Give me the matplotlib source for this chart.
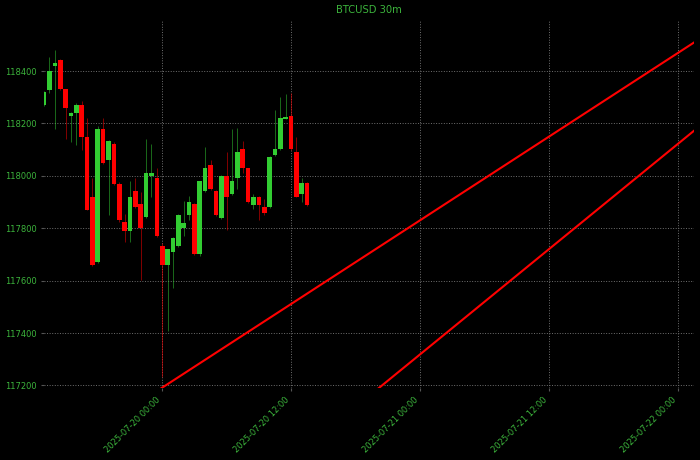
import matplotlib
matplotlib.use("Agg")
import matplotlib.pyplot as plt
import matplotlib.dates as mdates
import matplotlib.ticker as mticker
import pandas as pd
import numpy as np

# ---- data ----
start_time = "2025-07-19 13:00"
opens = [118270, 118327, 118420, 118442, 118330, 118229, 118241, 118270, 118149, 117920,
         117672, 118180, 118060, 118120, 117970, 117822, 117790, 117941, 117892, 117841,
         118000, 117991, 117732, 117659, 117710, 117732, 117802, 117850, 117891, 117700,
         117942, 118041, 117942, 117840, 117999, 117930, 117990, 118101, 118028, 117888,
         117920, 117882, 117881, 118079, 118101, 118218, 118230, 118091, 117929, 117971]
highs = [118325, 118452, 118480, 118446, 118332, 118245, 118276, 118285, 118219, 117990,
         118189, 118219, 118135, 118130, 117975, 117853, 117980, 117990, 117939, 118140,
         118121, 118028, 117743, 117722, 117766, 117855, 117904, 117923, 117895, 117982,
         118111, 118060, 117945, 118002, 118092, 118179, 118181, 118133, 118031, 117931,
         117922, 117911, 118075, 118251, 118302, 118312, 118315, 118149, 117993, 117977]
lows = [118265, 118317, 118178, 118328, 118139, 118130, 118117, 118098, 117868, 117655,
        117668, 118045, 117850, 117965, 117825, 117747, 117747, 117878, 117602, 117838,
        117920, 117765, 117233, 117408, 117570, 117728, 117770, 117831, 117698, 117695,
        117938, 117945, 117848, 117836, 117793, 117926, 117948, 118012, 117898, 117873,
        117831, 117851, 117878, 118077, 118099, 118215, 118098, 117918, 117901, 117885]
closes = [118321, 118400, 118429, 118330, 118257, 118241, 118270, 118149, 117871, 117659,
          118180, 118050, 118131, 117970, 117830, 117790, 117920, 117881, 117802, 118012,
          118010, 117770, 117659, 117719, 117761, 117850, 117821, 117901, 117701, 117980,
          118028, 117948, 117850, 117999, 117920, 117980, 118092, 118028, 117901, 117920,
          117888, 117859, 118072, 118101, 118222, 118226, 118101, 117920, 117971, 117888]

trend1_times = ["2025-07-19 23:30", "2025-07-22 01:30"]
trend1_values = [117178, 118508]
trend2_times = ["2025-07-20 20:00", "2025-07-22 01:30"]
trend2_values = [117184, 118171]

y_ticks = [117200, 117400, 117600, 117800, 118000, 118200, 118400]
x_range = ["2025-07-19 13:00", "2025-07-22 01:30"]
title = "BTCUSD 30m"

# ---- plot ----
GREEN = "#32cd32"
RED = "#ff0000"
TXT = "#3cb43c"

fig = plt.figure(figsize=(7, 4.601), dpi=100, facecolor="black")
ax = fig.add_axes([0.063, 0.1565, 0.928, 0.8])
ax.set_facecolor("black")

times = pd.date_range(start_time, periods=len(opens), freq="30min")
xs = mdates.date2num(times.to_pydatetime())
o = np.array(opens); h = np.array(highs); l = np.array(lows); c = np.array(closes)
up = c >= o
cols = np.where(up, GREEN, RED)

ax.vlines(xs, l, h, colors=cols, linewidth=0.6, alpha=0.6, zorder=2)
body_h = np.where(np.abs(c - o) < 4, 4, np.abs(c - o))
ax.bar(xs, body_h, bottom=np.minimum(o, c), width=0.018, color=cols, zorder=3, linewidth=0)

t1 = mdates.date2num(pd.to_datetime(trend1_times).to_pydatetime())
t2 = mdates.date2num(pd.to_datetime(trend2_times).to_pydatetime())
ax.plot(t1, trend1_values, color=RED, linewidth=1.5, zorder=4)
ax.plot(t2, trend2_values, color=RED, linewidth=1.5, zorder=4)

xr = mdates.date2num(pd.to_datetime(x_range).to_pydatetime())
ax.set_xlim(xr[0], xr[1])
ax.set_ylim(117190, 118595)

ax.xaxis.set_major_locator(mdates.HourLocator(byhour=[0, 12]))
ax.xaxis.set_major_formatter(mdates.DateFormatter("%Y-%m-%d %H:%M"))
ax.set_yticks(y_ticks)
ax.yaxis.set_major_formatter(mticker.FuncFormatter(lambda v, p: f"{int(v)}"))

ax.grid(True, color="#707070", linestyle=":", linewidth=0.7)
ax.set_axisbelow(True)
for s in ax.spines.values():
    s.set_visible(False)
ax.tick_params(colors="#555555", labelcolor=TXT, labelsize=6.0, length=2.5, pad=2.8)
plt.setp(ax.get_xticklabels(), rotation=45, ha="right")
ax.set_title(title, color=TXT, fontsize=7.2, pad=5)

fig.savefig("out.png", dpi=100, facecolor="black")
